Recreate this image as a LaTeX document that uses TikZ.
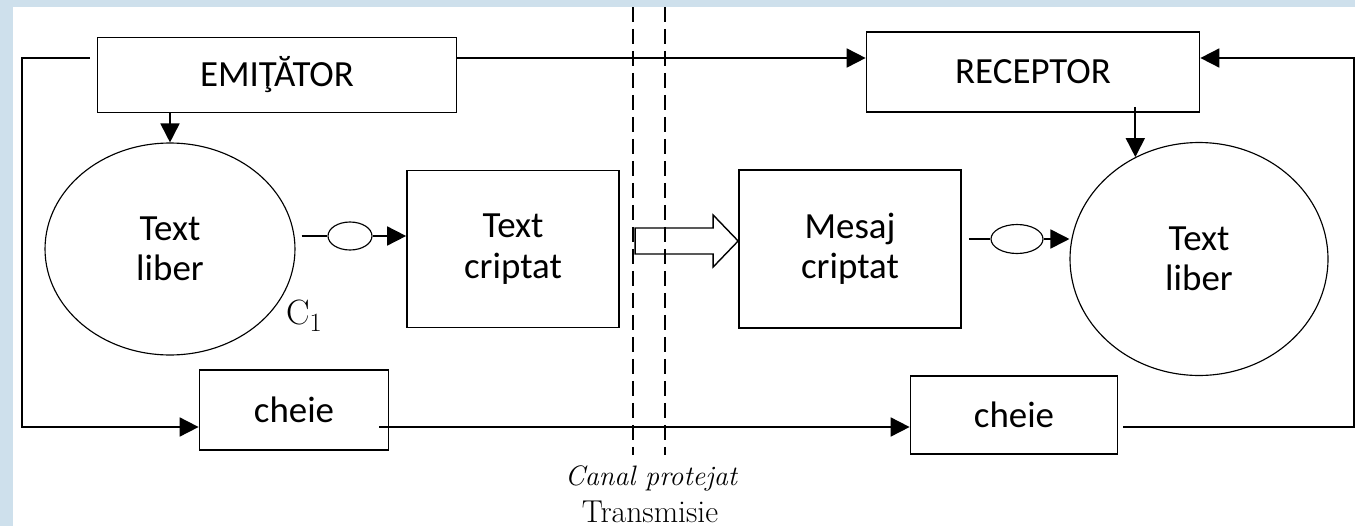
\documentclass[tikz,border=0pt]{standalone}
\usepackage{fontspec}
\newfontfamily\calibri{Carlito}
\usetikzlibrary{arrows.meta,shapes.geometric}

\definecolor{fundal}{RGB}{206,224,236}

\tikzset{
  bloc/.style 2 args={draw, line width=1pt, minimum width=#1, minimum height=#2,
    inner sep=0pt, align=center, font=\calibri\fontsize{21}{23}\selectfont},
  cerc/.style 2 args={ellipse, draw, line width=0.65pt, minimum width=#1, minimum height=#2,
    inner sep=0pt, align=center, font=\calibri\fontsize{21}{23}\selectfont},
  fir/.style={line width=1pt},
  fleche/.style={fir, -{Triangle[length=0.38cm, width=0.38cm]}},
}

\begin{document}
\begin{tikzpicture}[x=0.02cm, y=-0.02cm]
      \def\sus{58}
      \def\jos{427}

      \fill[fundal] (0, 0) rectangle (1355, 526) ;
      \fill[white] (13, 7) rectangle (1355, 526) ;

      % canalul protejat
      \draw[line width=1.2pt, dash pattern=on 0.3cm off 0.14cm] (633, 7) -- (633, 455) ;
      \draw[line width=1.2pt, dash pattern=on 0.3cm off 0.14cm] (665, 7) -- (665, 455) ;

      \node[bloc={7.18cm}{1.5cm}] (emitator) at (277, 75) {EMIŢĂTOR} ;
      \node[bloc={6.66cm}{1.6cm}] (receptor) at (1033, 72) {RECEPTOR} ;

      \node[cerc={5cm}{4.24cm}] (liber1) at (170, 249) {Text\\liber} ;
      \node[cerc={5.16cm}{4.66cm}] (liber2) at (1199, 259) {Text\\liber} ;

      \node[bloc={4.24cm}{3.14cm}] (criptat) at (513, 249) {Text\\criptat} ;
      \node[bloc={4.44cm}{3.16cm}] (mesaj) at (850, 249) {Mesaj\\criptat} ;

      \node[bloc={3.78cm}{1.6cm}] (cheie1) at (294, 410) {cheie} ;
      \node[bloc={4.14cm}{1.56cm}] (cheie2) at (1014, 415) {cheie} ;

      \node[ellipse, draw, line width=0.65pt, minimum width=0.88cm, minimum height=0.56cm, inner sep=0pt] (cod1) at (350, 236) {} ;
      \node[ellipse, draw, line width=0.65pt, minimum width=1.04cm, minimum height=0.58cm, inner sep=0pt] (cod2) at (1017, 239) {} ;

      \node[font=\fontsize{20}{20}\selectfont] (c1) at (304, 316) {C\raisebox{-0.2em}{\fontsize{15}{15}\selectfont 1}} ;

      \coordinate (stsus) at (22, \sus) ;
      \coordinate (stjos) at (22, \jos) ;
      \coordinate (drsus) at (1354, \sus) ;
      \coordinate (drjos) at (1354, \jos) ;

      \draw[fleche] (emitator.east |- stsus) -- (receptor.west |- stsus) ;
      \draw[fleche, shorten <=0.14cm] (emitator.west |- stsus) -- (stsus) -- (stjos) -- (cheie1.west |- stjos) ;
      \draw[fleche, shorten <=0.1cm] (cheie2.east |- drjos) -- (drjos) -- (drsus) -- (receptor.east |- drsus) ;
      \draw[fleche, shorten <=-0.2cm] (cheie1.east |- stjos) -- (cheie2.west |- stjos) ;

      \draw[fleche] (emitator.south -| liber1.north) -- (liber1.north) ;
      \draw[fleche, shorten <=-0.12cm] (receptor.south -| liber2.122) -- (liber2.122) ;

      \draw[fir, shorten <=0.12cm] (cod1 -| liber1.east) -- (cod1.west) ;
      \draw[fleche] (cod1.east) -- (cod1 -| criptat.west) ;
      \draw[fir, shorten <=0.14cm] (cod2 -| mesaj.east) -- (cod2.west) ;
      \draw[fleche] (cod2.east) -- (cod2 -| liber2.west) ;

      % sageata goala spre mesaj
      \draw[line width=0.8pt] (mesaj.west |- cod2) ++(0, 2) -- ++(-25, -26) -- ++(0, 13) -- ++(-78, 0) -- ++(0, 26) -- ++(78, 0) -- ++(0, 13) -- cycle ;

      \node[anchor=base, font=\fontsize{16}{16}\selectfont\itshape] (canal) at (651, 485) {Canal protejat} ;
      \node[anchor=base, font=\fontsize{18}{18}\selectfont] (transmisie) at (650, 522) {Transmisie} ;
\end{tikzpicture}
\end{document}
